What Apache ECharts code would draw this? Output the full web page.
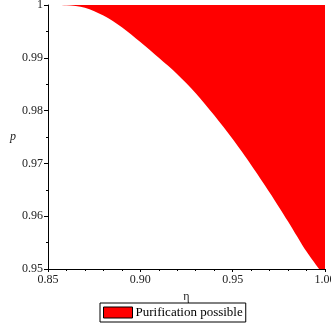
<!DOCTYPE html>
<html>
<head>
<meta charset="utf-8">
<script src="https://cdn.jsdelivr.net/npm/echarts@6/dist/echarts.min.js"></script>
<style>
  html, body { margin: 0; padding: 0; background: #fff; }
  #chart { width: 331px; height: 327px; }
</style>
</head>
<body>
<div id="chart"></div>
<script>
// boundary curve: purification possible above it
const eta = [0.85, 0.86, 0.87, 0.88, 0.89, 0.90, 0.91, 0.92, 0.93, 0.94, 0.95, 0.96, 0.97, 0.98, 0.99, 1.00];
const pBound = [1.0, 0.99995, 0.9995, 0.9980, 0.9958, 0.9930, 0.9900, 0.9869, 0.9833, 0.9791, 0.9746, 0.9697, 0.9645, 0.9590, 0.9533, 0.9485];
const seriesName = "Purification possible";

const font = "'Liberation Serif', 'Times New Roman', serif";
const chart = echarts.init(document.getElementById("chart"), null, { renderer: "canvas" });

chart.setOption({
  backgroundColor: "#fff",
  animation: false,
  grid: { left: 48, right: 6, top: 5, bottom: 58, outerBoundsMode: "none", containLabel: false },
  xAxis: {
    type: "value",
    min: 0.85,
    max: 1.0,
    interval: 0.05,
    name: "η",
    nameLocation: "middle",
    nameGap: 18,
    nameTextStyle: { color: "#222", fontFamily: font, fontSize: 12 },
    axisLine: { lineStyle: { color: "#000", width: 1 } },
    axisTick: { length: 3, lineStyle: { color: "#000" } },
    minorTick: { show: true, splitNumber: 5, length: 2, lineStyle: { color: "#000" } },
    splitLine: { show: false },
    axisLabel: {
      color: "#222", fontFamily: font, fontSize: 12, margin: 5,
      formatter: (v) => v.toFixed(2),
    },
  },
  yAxis: {
    type: "value",
    min: 0.95,
    max: 1.0,
    interval: 0.01,
    name: "p",
    nameLocation: "middle",
    nameGap: 32,
    nameRotate: 0,
    nameTextStyle: { color: "#222", fontFamily: font, fontSize: 12, fontStyle: "italic" },
    axisLine: { show: true, lineStyle: { color: "#000", width: 1 } },
    axisTick: { show: true, length: 4, lineStyle: { color: "#000" } },
    minorTick: { show: true, splitNumber: 2, length: 2, lineStyle: { color: "#000" } },
    splitLine: { show: false },
    axisLabel: {
      color: "#222", fontFamily: font, fontSize: 12, margin: 5,
      formatter: (v) => String(parseFloat(v.toFixed(2))),
    },
  },
  legend: {
    left: 100,
    top: 303,
    padding: [3, 3, 3, 3],
    itemGap: 4,
    itemWidth: 29,
    itemHeight: 11,
    borderColor: "#000",
    borderWidth: 1,
    textStyle: { color: "#000", fontFamily: font, fontSize: 13, padding: [0, 0, 0, -2] },
    data: [{ name: seriesName, icon: "rect", itemStyle: { color: "#ff0000", borderColor: "#000", borderWidth: 1 } }],
  },
  series: [
    {
      name: seriesName,
      type: "line",
      data: eta.map((x, i) => [x, pBound[i]]),
      smooth: 0.3,
      showSymbol: false,
      lineStyle: { width: 0, color: "#ff0000" },
      itemStyle: { color: "#ff0000" },
      areaStyle: { color: "#ff0000", opacity: 1, origin: "end" },
      clip: true,
    },
  ],
});
</script>
</body>
</html>
